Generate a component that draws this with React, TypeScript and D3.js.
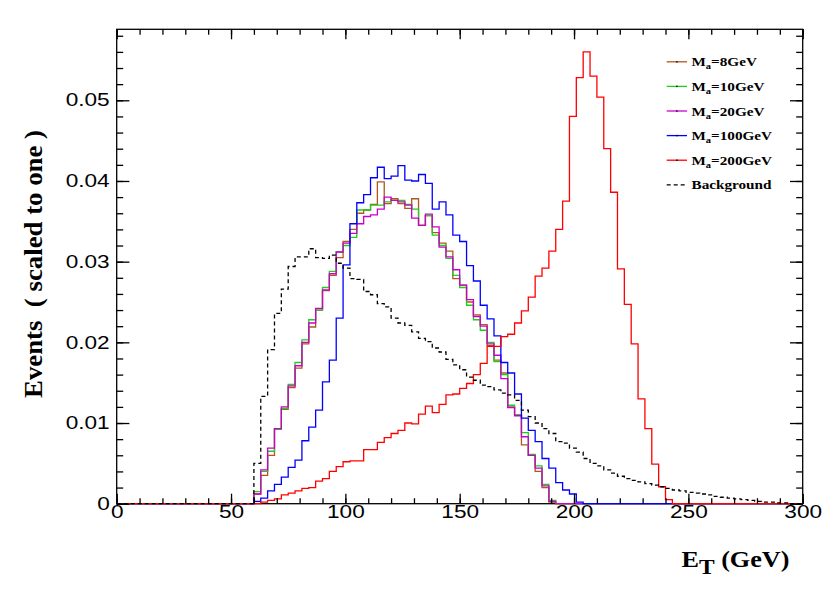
import { useEffect, useRef } from 'react';
import * as d3 from 'd3';

// histogram binning: 3 GeV bins, first filled bin starts at 60 GeV
const binWidth = 3;
const firstEdge = 60;
const xTicks = [0, 50, 100, 150, 200, 250, 300];
const yTicks = [0, 0.01, 0.02, 0.03, 0.04, 0.05];

// M_a = 8 GeV
const ma8 = [
  0.0012, 0.0035, 0.006, 0.0093, 0.0117, 0.0144, 0.0168, 0.0198, 0.0219, 0.024,
  0.0264, 0.0283, 0.0305, 0.0325, 0.034, 0.036, 0.0364, 0.0371, 0.0399, 0.0372,
  0.0378, 0.0372, 0.0366, 0.0378, 0.0345, 0.0357, 0.0336, 0.0323, 0.0313, 0.0279,
  0.0271, 0.025, 0.0234, 0.0222, 0.0196, 0.0178, 0.0162, 0.012, 0.011, 0.0073,
  0.006, 0.004, 0.002, 0.0002,
];
// M_a = 10 GeV
const ma10 = [
  0.0015, 0.004, 0.0065, 0.0092, 0.0118, 0.0148, 0.0175, 0.0203, 0.0228, 0.024,
  0.0268, 0.0288, 0.0312, 0.032, 0.033, 0.0364, 0.0364, 0.037, 0.037, 0.0374,
  0.0376, 0.0376, 0.0371, 0.0365, 0.0345, 0.0357, 0.0333, 0.032, 0.0304, 0.0283,
  0.0268, 0.0246, 0.0228, 0.0215, 0.02, 0.0176, 0.016, 0.0122, 0.011, 0.0088,
  0.0061, 0.0047, 0.0024, 0.0004,
];
// M_a = 20 GeV
const ma20 = [
  0.0012, 0.0042, 0.0069, 0.0093, 0.012, 0.0146, 0.0171, 0.02, 0.0224, 0.0242,
  0.0265, 0.0285, 0.0312, 0.0323, 0.0335, 0.0347, 0.0356, 0.0358, 0.0365, 0.038,
  0.0376, 0.0374, 0.037, 0.0354, 0.0345, 0.0359, 0.0343, 0.0318, 0.0306, 0.029,
  0.0271, 0.0253, 0.0232, 0.022, 0.0198, 0.0184, 0.0155, 0.0119, 0.0109, 0.0083,
  0.006, 0.0044, 0.0022, 0.0003,
];
// M_a = 100 GeV
const ma100 = [
  0.0003, 0.0007, 0.0016, 0.0024, 0.0033, 0.0045, 0.0054, 0.0078, 0.0095, 0.0116,
  0.0151, 0.0178, 0.023, 0.0296, 0.0347, 0.0373, 0.0383, 0.0404, 0.0417, 0.0403,
  0.0406, 0.0419, 0.0401, 0.04, 0.0408, 0.0397, 0.0365, 0.0374, 0.0358, 0.0333,
  0.0325, 0.0295, 0.0276, 0.0246, 0.0229, 0.0208, 0.0175, 0.0162, 0.0136, 0.0106,
  0.0091, 0.0077, 0.0056, 0.0044, 0.0026, 0.0017, 0.0012, 0.0002,
];
// M_a = 200 GeV
const ma200 = [
  0, 0.0002, 0.0004, 0.0006, 0.0011, 0.0013, 0.0016, 0.0019, 0.002, 0.0028,
  0.0031, 0.004, 0.0046, 0.0052, 0.0053, 0.0053, 0.0067, 0.0067, 0.0076, 0.0082,
  0.0087, 0.0091, 0.01, 0.0099, 0.0111, 0.0121, 0.0113, 0.0123, 0.0135, 0.0136,
  0.0143, 0.0149, 0.016, 0.0174, 0.0195, 0.0195, 0.0207, 0.021, 0.0224, 0.0239,
  0.0256, 0.0282, 0.0292, 0.0313, 0.034, 0.0375, 0.048, 0.0528, 0.056, 0.053,
  0.0504, 0.044, 0.0386, 0.0291, 0.0247, 0.0198, 0.013, 0.0093, 0.0049, 0.0021,
  0.0005,
];
// background
const background = [
  0.005, 0.0133, 0.0191, 0.0236, 0.0266, 0.0294, 0.0306, 0.0306, 0.0316, 0.0305,
  0.0304, 0.0308, 0.0298, 0.0292, 0.0279, 0.0278, 0.0263, 0.0259, 0.0248, 0.0244,
  0.023, 0.0224, 0.0221, 0.0213, 0.0205, 0.0201, 0.0193, 0.0188, 0.0179, 0.0172,
  0.0166, 0.0157, 0.0153, 0.0147, 0.0145, 0.0141, 0.0137, 0.0135, 0.0128, 0.0116,
  0.0108, 0.01, 0.0093, 0.0087, 0.0077, 0.0075, 0.0069, 0.0064, 0.0056, 0.005,
  0.0047, 0.0042, 0.0038, 0.0034, 0.0031, 0.0029, 0.0027, 0.0025, 0.0023, 0.0021,
  0.0019, 0.0017, 0.0016, 0.0014, 0.0013, 0.0012, 0.0011, 0.0009, 0.0008, 0.0007,
  0.0006, 0.0005, 0.0004, 0.0003, 0.0002, 0.0002, 0.0001, 0.0001,
];

const masses = ['8GeV', '10GeV', '20GeV', '100GeV', '200GeV'];
const signals = [ma8, ma10, ma20, ma100, ma200];
const colors = ['#b0561e', '#1fcc1f', '#cc00cc', '#0000ff', '#ff0000'];

export default function App() {
  const ref = useRef<SVGSVGElement>(null);

  useEffect(() => {
    const svg = d3.select(ref.current);
    svg.selectAll('*').remove();

    const left = 116.7, right = 802.7, top = 29.3, bottom = 503.7;
    const x = d3.scaleLinear().domain([0, 300]).range([left, right]);
    const y = d3.scaleLinear().domain([0, 0.0588]).range([bottom, top]);
    const nBins = 300 / binWidth;

    const toSteps = (values: number[]) => {
      const pts: [number, number][] = [];
      for (let i = 0; i < nBins; i++) {
        const edge = i * binWidth;
        const idx = Math.round((edge - firstEdge) / binWidth);
        const v = idx >= 0 && idx < values.length ? values[idx] : 0;
        pts.push([edge, v]);
      }
      pts.push([300, pts[pts.length - 1][1]]);
      return pts;
    };

    const line = d3.line<[number, number]>()
      .x(d => x(d[0]))
      .y(d => y(d[1]))
      .curve(d3.curveStepAfter);

    // frame
    svg.append('rect')
      .attr('x', left).attr('y', top)
      .attr('width', right - left).attr('height', bottom - top)
      .attr('fill', 'none').attr('stroke', '#000').attr('stroke-width', 1.3);

    // histograms
    signals.forEach((vals, i) => {
      svg.append('path')
        .attr('d', line(toSteps(vals)))
        .attr('fill', 'none')
        .attr('stroke', colors[i])
        .attr('stroke-width', 1.3);
    });
    svg.append('path')
      .attr('d', line(toSteps(background)))
      .attr('fill', 'none')
      .attr('stroke', '#000')
      .attr('stroke-width', 1.3)
      .attr('stroke-dasharray', '4,3');

    // ticks (inward, on all four sides)
    const tickStyle = (g: any) => {
      g.select('.domain').remove();
      g.selectAll('line').attr('stroke', '#000').attr('stroke-width', 1.3);
    };
    const minorX = d3.range(0, 301, 10);
    const minorY = d3.range(0, 0.0581, 0.002);

    svg.append('g').attr('transform', `translate(0,${bottom})`)
      .call(d3.axisBottom(x).tickValues(minorX).tickSize(-5.5).tickFormat(() => ''))
      .call(tickStyle);
    svg.append('g').attr('transform', `translate(0,${top})`)
      .call(d3.axisTop(x).tickValues(minorX).tickSize(-5.5).tickFormat(() => ''))
      .call(tickStyle);
    svg.append('g').attr('transform', `translate(0,${top})`)
      .call(d3.axisTop(x).tickValues(xTicks).tickSize(-10).tickFormat(() => ''))
      .call(tickStyle);
    svg.append('g').attr('transform', `translate(${left},0)`)
      .call(d3.axisLeft(y).tickValues(minorY).tickSize(-6.5).tickFormat(() => ''))
      .call(tickStyle);
    svg.append('g').attr('transform', `translate(${right},0)`)
      .call(d3.axisRight(y).tickValues(minorY).tickSize(-6.5).tickFormat(() => ''))
      .call(tickStyle);
    svg.append('g').attr('transform', `translate(${right},0)`)
      .call(d3.axisRight(y).tickValues(yTicks).tickSize(-12.7).tickFormat(() => ''))
      .call(tickStyle);

    const stretch = 1.28;
    const xAxis = svg.append('g').attr('transform', `translate(0,${bottom})`)
      .call(d3.axisBottom(x).tickValues(xTicks).tickSize(-10).tickFormat(d => String(d)))
      .call(tickStyle);
    xAxis.selectAll('text')
      .attr('y', 1.5)
      .attr('transform', `scale(${stretch},1)`)
      .attr('font-family', '"Liberation Sans", Arial, sans-serif')
      .attr('font-size', 17.7)
      .attr('fill', '#000');

    const yAxis = svg.append('g').attr('transform', `translate(${left},0)`)
      .call(d3.axisLeft(y).tickValues(yTicks).tickSize(-12.7)
        .tickFormat(d => (+d === 0 ? '0' : (+d).toFixed(2))))
      .call(tickStyle);
    yAxis.selectAll('text')
      .attr('x', -7 / stretch)
      .attr('transform', `scale(${stretch},1)`)
      .attr('font-family', '"Liberation Sans", Arial, sans-serif')
      .attr('font-size', 17.7)
      .attr('fill', '#000');

    // axis titles
    const xt = svg.append('text')
      .attr('x', 789.5).attr('y', 566.7)
      .attr('text-anchor', 'end')
      .attr('font-family', '"Liberation Serif", "Times New Roman", serif')
      .attr('font-weight', 'bold')
      .attr('font-size', 24)
      .attr('textLength', 108)
      .attr('lengthAdjust', 'spacingAndGlyphs');
    xt.append('tspan').text('E');
    xt.append('tspan').attr('font-size', 21.5).attr('dy', 7.6).text('T');
    xt.append('tspan').attr('dy', -7.6).text(' (GeV)');

    svg.append('text')
      .attr('transform', 'translate(41.5,264) rotate(-90)')
      .attr('text-anchor', 'middle')
      .attr('font-family', '"Liberation Serif", "Times New Roman", serif')
      .attr('font-weight', 'bold')
      .attr('font-size', 25)
      .attr('textLength', 268)
      .attr('lengthAdjust', 'spacingAndGlyphs')
      .style('white-space', 'pre')
      .text('Events  ( scaled to one )');

    // legend
    const legendY = (i: number) => 61.8 + i * 24.6;
    const entries = masses.map((m, i) => ({ m, color: colors[i], dashed: false }))
      .concat([{ m: '', color: '#000', dashed: true }]);
    entries.forEach((e, i) => {
      const ly = legendY(i);
      svg.append('line')
        .attr('x1', 666.7).attr('x2', 687)
        .attr('y1', ly).attr('y2', ly)
        .attr('stroke', e.color)
        .attr('stroke-width', 1.3)
        .attr('stroke-dasharray', e.dashed ? '4,3' : null);
      if (!e.dashed) {
        svg.append('rect')
          .attr('x', 676.2).attr('y', ly - 0.7)
          .attr('width', 1.4).attr('height', 1.4)
          .attr('fill', '#000');
      }
      const t = svg.append('text')
        .attr('transform', `translate(691.5,${ly + 4.5}) scale(1.17,1)`)
        .attr('font-family', '"Liberation Serif", "Times New Roman", serif')
        .attr('font-weight', 'bold')
        .attr('font-size', 13)
        .attr('fill', '#000');
      if (e.dashed) {
        t.text('Background');
      } else {
        t.append('tspan').text('M');
        t.append('tspan').attr('font-size', 9).attr('dy', 3).text('a');
        t.append('tspan').attr('dy', -3).text(`=${e.m}`);
      }
    });
  }, []);

  return (
    <svg
      ref={ref}
      width={830}
      height={593}
      style={{ position: 'absolute', left: 0, top: 0, background: '#fff' }}
    />
  );
}
